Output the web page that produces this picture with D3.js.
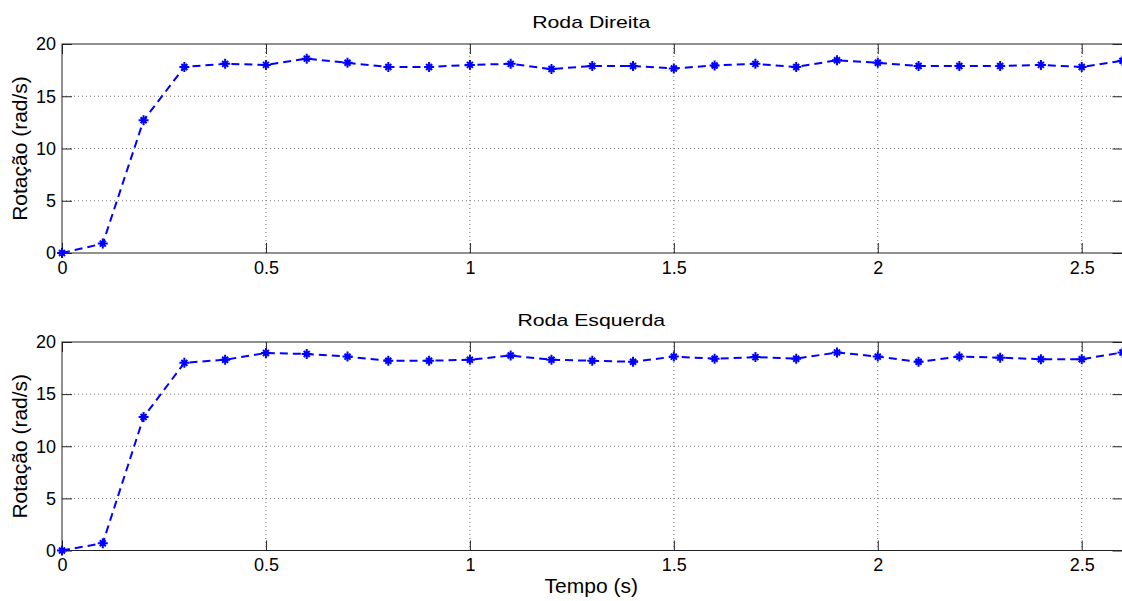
<!DOCTYPE html>
<html>
<head>
<meta charset="utf-8">
<script src="https://cdn.jsdelivr.net/npm/d3@7"></script>
<style>
  body { margin: 0; background: #fff; }
  svg { display: block; font-family: "Liberation Sans", Arial, sans-serif; }
</style>
</head>
<body>
<svg id="svg"></svg>
<script>
const width = 1122, height = 601;

// tempo (s)
const tempo = [0, 0.1, 0.2, 0.3, 0.4, 0.5, 0.6, 0.7, 0.8, 0.9, 1.0, 1.1, 1.2, 1.3,
  1.4, 1.5, 1.6, 1.7, 1.8, 1.9, 2.0, 2.1, 2.2, 2.3, 2.4, 2.5, 2.6];
// rotação roda direita (rad/s)
const rodaDireita = [0, 0.9, 12.7, 17.8, 18.1, 18.0, 18.6, 18.2, 17.8, 17.8, 18.0, 18.1, 17.6, 17.9,
  17.9, 17.65, 17.95, 18.1, 17.8, 18.45, 18.2, 17.9, 17.9, 17.9, 18.0, 17.8, 18.4];
// rotação roda esquerda (rad/s)
const rodaEsquerda = [0, 0.7, 12.8, 18.0, 18.3, 18.95, 18.85, 18.6, 18.2, 18.2, 18.3, 18.7, 18.3, 18.2,
  18.1, 18.6, 18.4, 18.55, 18.4, 19.0, 18.6, 18.1, 18.6, 18.5, 18.35, 18.35, 19.0];

const xTicks = [0, 0.5, 1, 1.5, 2, 2.5];
const yTicks = [0, 5, 10, 15, 20];

const panels = [
  { title: "Roda Direita", values: rodaDireita, top: 44, bottom: 253 },
  { title: "Roda Esquerda", values: rodaEsquerda, top: 342, bottom: 550.5 }
];

const plotLeft = 62, plotRight = 1122.5;

const svg = d3.select("#svg")
  .attr("width", width)
  .attr("height", height);

const x = d3.scaleLinear().domain([0, 2.6]).range([plotLeft, plotRight]);

// asterisco do matlab
function star(s) {
  const d = s * 0.6;
  return `M${-s},0L${s},0M0,${-s}L0,${s}M${-d},${-d}L${d},${d}M${-d},${d}L${d},${-d}`;
}

panels.forEach((p, pi) => {
  const y = d3.scaleLinear().domain([0, 20]).range([p.bottom, p.top]);
  const g = svg.append("g");

  // grade pontilhada
  g.append("g")
    .selectAll("line")
    .data(xTicks.slice(1))
    .join("line")
    .attr("x1", d => x(d)).attr("x2", d => x(d))
    .attr("y1", p.top).attr("y2", p.bottom)
    .attr("stroke", "#777").attr("stroke-dasharray", "1,3");
  g.append("g")
    .selectAll("line")
    .data(yTicks.slice(1, -1))
    .join("line")
    .attr("x1", plotLeft).attr("x2", plotRight)
    .attr("y1", d => y(d)).attr("y2", d => y(d))
    .attr("stroke", "#777").attr("stroke-dasharray", "1,3");

  // caixa
  g.append("rect")
    .attr("x", plotLeft).attr("y", p.top)
    .attr("width", plotRight - plotLeft).attr("height", p.bottom - p.top)
    .attr("fill", "none").attr("stroke", "#222");

  // eixos com ticks para dentro
  const xAxisB = d3.axisBottom(x).tickValues(xTicks).tickSizeInner(-10).tickSizeOuter(0)
    .tickPadding(8).tickFormat(d3.format("~g"));
  const xAxisT = d3.axisTop(x).tickValues(xTicks).tickSizeInner(-10).tickSizeOuter(0).tickFormat("");
  const yAxisL = d3.axisLeft(y).tickValues(yTicks).tickSizeInner(-10).tickSizeOuter(0).tickPadding(6);
  const yAxisR = d3.axisRight(y).tickValues(yTicks).tickSizeInner(-10).tickSizeOuter(0).tickFormat("");

  const axes = [
    g.append("g").attr("transform", `translate(0,${p.bottom})`).call(xAxisB),
    g.append("g").attr("transform", `translate(0,${p.top})`).call(xAxisT),
    g.append("g").attr("transform", `translate(${plotLeft},0)`).call(yAxisL),
    g.append("g").attr("transform", `translate(${plotRight},0)`).call(yAxisR)
  ];
  axes.forEach(a => {
    a.select(".domain").remove();
    a.selectAll("line").attr("stroke", "#222");
    a.selectAll("text").attr("fill", "#000").style("font-size", "18px")
      .style("font-family", "\"Liberation Sans\", Arial, sans-serif");
  });

  // linha tracejada
  const line = d3.line()
    .x((d, i) => x(tempo[i]))
    .y(d => y(d));

  g.append("path")
    .datum(p.values)
    .attr("d", line)
    .attr("fill", "none")
    .attr("stroke", "#0000ff")
    .attr("stroke-width", 2)
    .attr("stroke-dasharray", "8,5");

  g.append("g")
    .selectAll("path")
    .data(p.values)
    .join("path")
    .attr("transform", (d, i) => `translate(${x(tempo[i])},${y(d)})`)
    .attr("d", star(5))
    .attr("stroke", "#0000ff")
    .attr("stroke-width", 2)
    .attr("fill", "none");

  // título
  const cx = (plotLeft + plotRight) / 2 - 1;
  g.append("text")
    .attr("transform", `translate(${cx},${p.top - 16}) scale(1.25,1)`)
    .attr("text-anchor", "middle")
    .style("font-size", "17px")
    .text(p.title);

  // rótulo y
  g.append("text")
    .attr("transform", `translate(27,${(p.top + p.bottom) / 2}) rotate(-90)`)
    .attr("text-anchor", "middle")
    .style("font-size", "21px")
    .text("Rotação (rad/s)");
});

svg.append("text")
  .attr("x", (plotLeft + plotRight) / 2 - 1)
  .attr("y", 593)
  .attr("text-anchor", "middle")
  .style("font-size", "21px")
  .text("Tempo (s)");
</script>
</body>
</html>
